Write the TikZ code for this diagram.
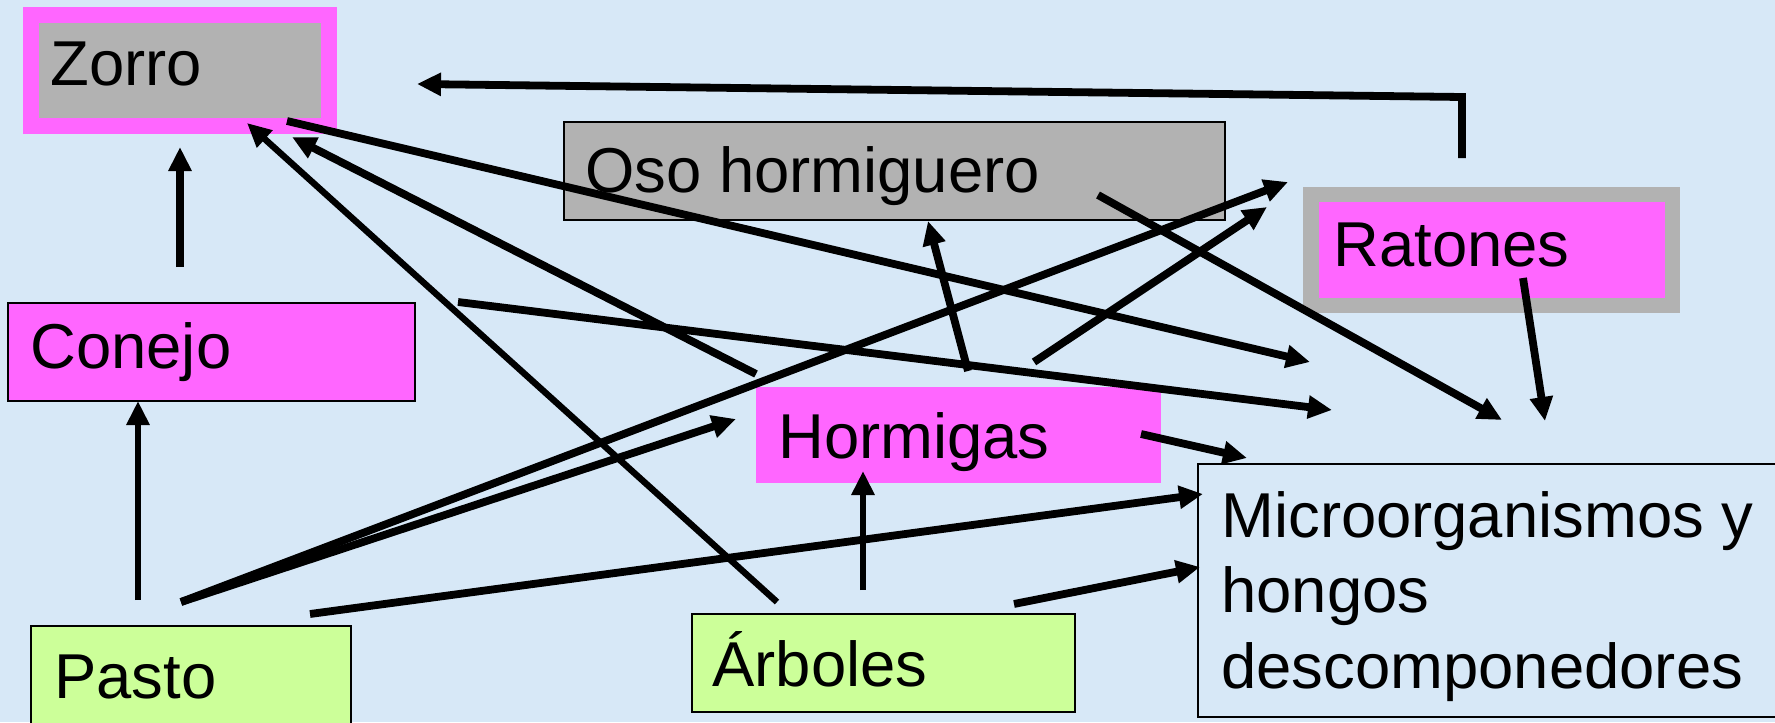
\documentclass[tikz,border=0pt]{standalone}
\usepackage{fontspec}
\setmainfont{Liberation Sans}
\usetikzlibrary{arrows.meta,fit}
\definecolor{bgblue}{RGB}{215,232,247}
\definecolor{pinkbox}{RGB}{255,102,255}
\definecolor{greybox}{RGB}{178,178,178}
\definecolor{greenbox}{RGB}{204,255,153}
\tikzset{
  boxfit/.style={inner sep=0pt, outer sep=0pt},
  frame/.style={draw=black, line width=0.8pt},
  lbl/.style={anchor=base west, inner sep=0pt, font=\fontsize{31.7}{37.5}\selectfont},
  arr/.style={-{Triangle[length=12pt,width=11pt]}, line width=3.9pt, draw=black},
  arrthin/.style={arr, line width=3.2pt},
}
\begin{document}
\begin{tikzpicture}[x=0.5pt,y=-0.5pt]
\useasboundingbox (0,0) rectangle (1775,722);
\fill[bgblue] (0,0) rectangle (1775,722);

% boxes
\node[boxfit, fill=pinkbox, fit={(23,7) (337,134)}] (zorroO) {};
\node[boxfit, fill=greybox, fit={(39,23) (321,118)}] (zorro) {};
\node[boxfit, fill=greybox, frame, fit={(564,122) (1225,220)}] (oso) {};
\node[boxfit, fill=greybox, fit={(1303,187) (1680,313)}] (ratonesO) {};
\node[boxfit, fill=pinkbox, fit={(1319,202) (1665,298)}] (ratones) {};
\node[boxfit, fill=pinkbox, frame, fit={(8,303) (415,401)}] (conejo) {};
\node[boxfit, fill=pinkbox, fit={(756,387) (1161,483)}] (hormigas) {};
\node[boxfit, frame, fit={(1198,464) (1790,717)}] (micro) {};
\node[boxfit, fill=greenbox, frame, fit={(31,626) (351,740)}] (pasto) {};
\node[boxfit, fill=greenbox, frame, fit={(692,614) (1075,712)}] (arboles) {};

% texts
\node[lbl] (tzorro) at (50,86) {Zorro};
\node[lbl] (toso) at (585,192) {Oso hormiguero};
\node[lbl] (tratones) at (1333,266) {Ratones};
\node[lbl] (tconejo) at (30,368) {Conejo};
\node[lbl] (thormigas) at (778,458) {Hormigas};
\node[lbl] (tmicroA) at (1221,537) {Microorganismos y};
\node[lbl] (tmicroB) at (1221,612) {hongos};
\node[lbl] (tmicroC) at (1221,688) {descomponedores};
\node[lbl] (tpasto) at (54,698) {Pasto};
\node[lbl] (tarboles) at (712,686) {Árboles};

% connector end points
\coordinate (c1s) at (180,267);  \coordinate (c1e) at (180,147);
\coordinate (c2s) at (138,600);  \coordinate (c2e) at (138,401);
\coordinate (c3s) at (1462,158); \coordinate (c3m) at (1462,97); \coordinate (c3e) at (417,84);
\coordinate (c4s) at (777,602);  \coordinate (c4e) at (247,123);
\coordinate (c5s) at (756,374);  \coordinate (c5e) at (292,137);
\coordinate (c6s) at (287,121);  \coordinate (c6e) at (1310,362);
\coordinate (c7s) at (458,302);  \coordinate (c7e) at (1332,410);
\coordinate (c8s) at (1098,195); \coordinate (c8e) at (1502,420);
\coordinate (c9s) at (1523,278); \coordinate (c9e) at (1545,421);
\coordinate (c10s) at (1141,434); \coordinate (c10e) at (1247,458);
\coordinate (c11s) at (968,371); \coordinate (c11e) at (928,221);
\coordinate (c12s) at (1034,362); \coordinate (c12e) at (1267,207);
\coordinate (c13s) at (181,602); \coordinate (c13e) at (1288,182);
\coordinate (c14s) at (181,602); \coordinate (c14e) at (736,419);
\coordinate (c15s) at (310,614); \coordinate (c15e) at (1203,494);
\coordinate (c16s) at (863,590); \coordinate (c16e) at (863,471);
\coordinate (c17s) at (1014,604); \coordinate (c17e) at (1200,567);

% connectors
\draw[arr] (c1s) -- (c1e);
\draw[arrthin] (c2s) -- (c2e);
\draw[arr, line join=miter] (c3s) -- (c3m) -- (c3e);
\draw[arrthin] (c4s) -- (c4e);
\draw[arr] (c5s) -- (c5e);
\draw[arr] (c6s) -- (c6e);
\draw[arr] (c7s) -- (c7e);
\draw[arr] (c8s) -- (c8e);
\draw[arr] (c9s) -- (c9e);
\draw[arr] (c10s) -- (c10e);
\draw[arr] (c11s) -- (c11e);
\draw[arr] (c12s) -- (c12e);
\draw[arr] (c13s) -- (c13e);
\draw[arr] (c14s) -- (c14e);
\draw[arr] (c15s) -- (c15e);
\draw[arrthin] (c16s) -- (c16e);
\draw[arr] (c17s) -- (c17e);
\end{tikzpicture}
\end{document}
